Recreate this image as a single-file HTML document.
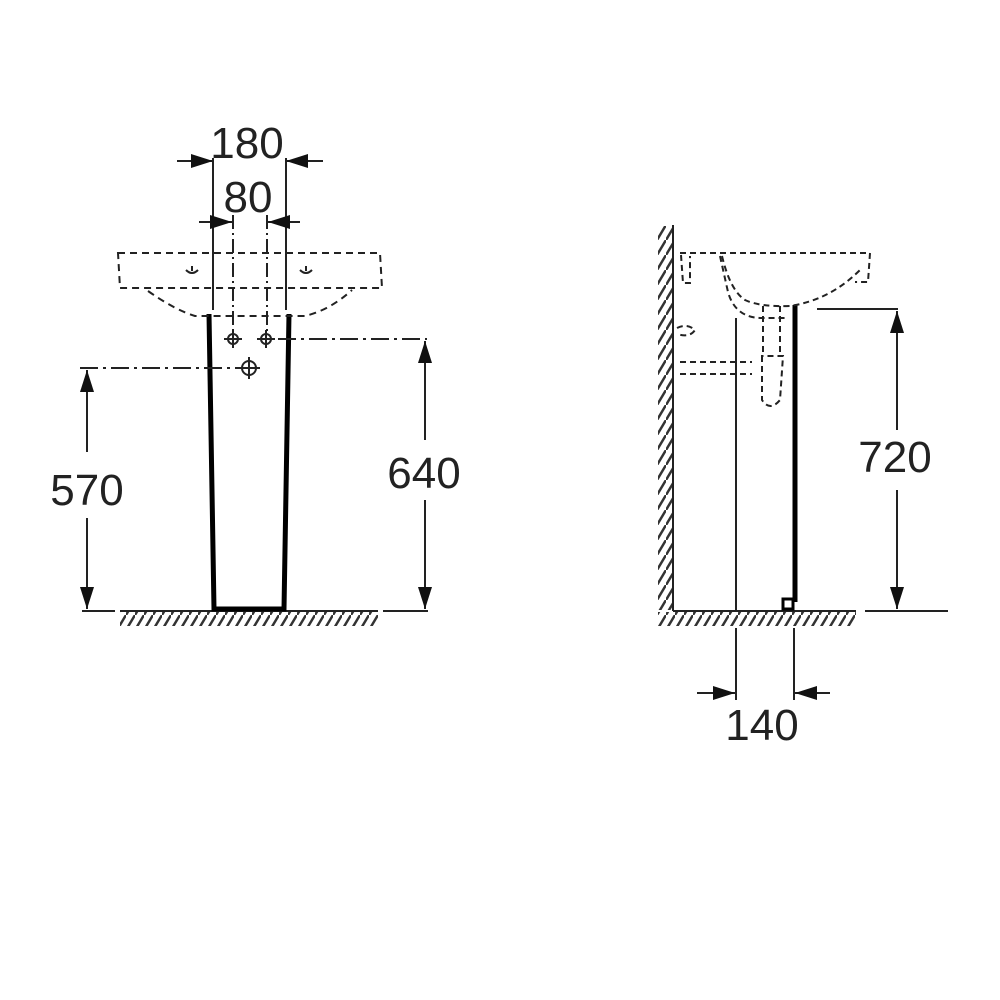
<!DOCTYPE html>
<html><head><meta charset="utf-8"><style>html,body{margin:0;padding:0;background:#fff}svg{display:block}</style></head>
<body>
<svg width="1000" height="1000" viewBox="0 0 1000 1000" xmlns="http://www.w3.org/2000/svg">
<defs>
<pattern id="h" width="9" height="15" patternUnits="userSpaceOnUse">
<line x1="0" y1="15" x2="9" y2="0" stroke="#333" stroke-width="2.5"/>
</pattern>
<marker id="ar" markerWidth="22" markerHeight="14" refX="22" refY="7" orient="auto" markerUnits="userSpaceOnUse">
<path d="M0,0 L22,7 L0,14 Z" fill="#111"/>
</marker>
</defs>
<g font-family="Liberation Sans, sans-serif" font-size="44" fill="#222" text-anchor="middle">
<text x="247" y="158">180</text>
<text x="248" y="212">80</text>
<text x="87" y="505">570</text>
<text x="424" y="488">640</text>
<text x="895" y="472">720</text>
<text x="762" y="740">140</text>
</g>
<g stroke="#222" fill="none" stroke-width="2">
<line x1="82" y1="611" x2="115" y2="611"/>
<line x1="120" y1="611" x2="378" y2="611"/>
<line x1="383" y1="611" x2="428" y2="611"/>
<rect x="120" y="612" width="258" height="14" fill="url(#h)" stroke="none"/>
<path d="M209,314 L214,609 L284,609 L289,314" stroke="#000" stroke-width="5"/>
<line x1="213" y1="158" x2="213" y2="310"/>
<line x1="286" y1="158" x2="286" y2="310"/>
<line x1="177" y1="161" x2="213" y2="161" marker-end="url(#ar)"/>
<line x1="323" y1="161" x2="286" y2="161" marker-end="url(#ar)"/>
<line x1="199" y1="222" x2="232" y2="222" marker-end="url(#ar)"/>
<line x1="300" y1="222" x2="268" y2="222" marker-end="url(#ar)"/>
<line x1="233" y1="215" x2="233" y2="332" stroke-dasharray="14,4,2,4"/>
<line x1="267" y1="215" x2="267" y2="332" stroke-dasharray="14,4,2,4"/>
<g stroke-dasharray="7,5">
<path d="M118,253 L380,253 L382,288 L120,288 Z"/>
<path d="M148,291 Q175,310 195,316 L305,316 Q330,310 352,290"/>
</g>
<path d="M186,270 q6,6 12,0 M300,270 q6,6 12,0 M192,266 v5 M306,266 v5"/>
<circle cx="233" cy="339" r="5"/>
<circle cx="266" cy="339" r="5"/>
<circle cx="249" cy="368" r="7"/>
<line x1="233" y1="330" x2="233" y2="348"/><line x1="224" y1="339" x2="242" y2="339"/>
<line x1="266" y1="330" x2="266" y2="348"/><line x1="257" y1="339" x2="275" y2="339"/>
<line x1="249" y1="357" x2="249" y2="379"/><line x1="238" y1="368" x2="260" y2="368"/>
<line x1="278" y1="339" x2="427" y2="339" stroke-dasharray="18,5,3,5"/>
<line x1="80" y1="368" x2="238" y2="368" stroke-dasharray="18,5,3,5"/>
<line x1="425" y1="440" x2="425" y2="341" marker-end="url(#ar)"/>
<line x1="425" y1="500" x2="425" y2="609" marker-end="url(#ar)"/>
<line x1="87" y1="452" x2="87" y2="370" marker-end="url(#ar)"/>
<line x1="87" y1="518" x2="87" y2="609" marker-end="url(#ar)"/>

<line x1="673" y1="225" x2="673" y2="611"/>
<rect x="658" y="226" width="14" height="384" fill="url(#h)" stroke="none"/>
<line x1="673" y1="611" x2="856" y2="611"/>
<rect x="658" y="612" width="198" height="14" fill="url(#h)" stroke="none"/>
<line x1="865" y1="611" x2="948" y2="611"/>
<line x1="795" y1="305" x2="795" y2="602" stroke="#000" stroke-width="5"/>
<rect x="783" y="599" width="10" height="10" stroke="#000" stroke-width="3"/>
<line x1="736" y1="318" x2="736" y2="611"/>
<line x1="736" y1="628" x2="736" y2="700"/>
<line x1="794" y1="628" x2="794" y2="700"/>
<line x1="697" y1="693" x2="735" y2="693" marker-end="url(#ar)"/>
<line x1="830" y1="693" x2="795" y2="693" marker-end="url(#ar)"/>
<line x1="817" y1="309" x2="898" y2="309"/>
<line x1="897" y1="430" x2="897" y2="311" marker-end="url(#ar)"/>
<line x1="897" y1="490" x2="897" y2="609" marker-end="url(#ar)"/>
<g stroke-dasharray="6,4">
<path d="M680,253 L870,253 L868,282 L855,282"/>
<path d="M681,255 L683,283 L690,283 L690,256"/>
<path d="M722,256 Q730,290 745,300 Q760,307 790,306 Q830,300 860,270"/>
<path d="M720,256 L728,292 Q735,317 760,318 L785,318"/>
<path d="M763,306 L763,352 M780,306 L780,352"/>
<path d="M680,362 L752,362 M680,374 L752,374"/>
<path d="M762,356 L762,400 Q770,412 780,400 L783,356 Z"/>
<path d="M677,328 q10,-5 18,2 q-5,8 -18,4"/>
</g>
</g>
</svg>
</body></html>
